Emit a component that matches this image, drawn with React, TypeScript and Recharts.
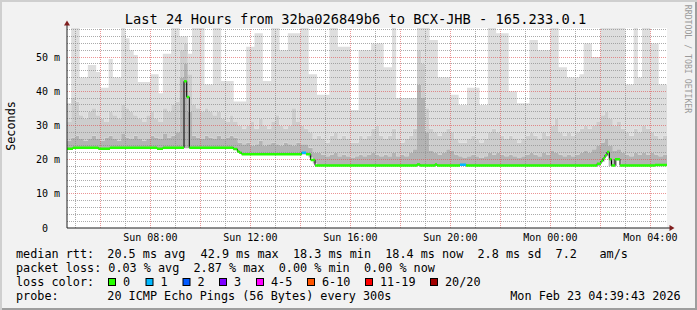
import React from 'react'
import { ComposedChart, Area, Line, XAxis, YAxis, CartesianGrid, ReferenceLine } from 'recharts'

const MONO = "'DejaVu Sans Mono', monospace"

// time in hours since Sun 00:00, smoke in 10 minute bins
const T0 = 4 + 40 / 60
const T1 = T0 + 24
const BIN = 1 / 6
const Y_TOP = 58.5

// smoke bands (ms): lowest ping, top of dark band, top of mid band, highest ping
const SMOKE_LOW = [
  23.3, 23.3, 23.3, 23.3, 23.3, 23.3, 23.3, 23.3, 23.3, 23.3, 23.3, 23.3,
  23.3, 23.3, 23.3, 23.3, 23.3, 23.3, 23.3, 23.3, 23.3, 23.3, 23.3, 23.3,
  23.3, 23.3, 23.3, 23.3, 23.3, 23.3, 23.3, 23.3, 23.3, 23.3, 23.3, 23.3,
  23.3, 23.3, 23.3, 23.2, 22.9, 22.1, 21.5, 21.5, 21.5, 21.5, 21.5, 21.5,
  21.5, 21.5, 21.5, 21.5, 21.5, 21.5, 21.5, 21.5, 21.5, 21.5, 20.6, 18.9,
  18.1, 18.1, 18.1, 18.1, 18.1, 18.1, 18.1, 18.1, 18.1, 18.1, 18.1, 18.1,
  18.1, 18.1, 18.1, 18.1, 18.1, 18.1, 18.1, 18.1, 18.1, 18.1, 18.1, 18.1,
  18.1, 18.1, 18.1, 18.1, 18.1, 18.1, 18.1, 18.1, 18.1, 18.1, 18.1, 18.1,
  18.1, 18.1, 18.1, 18.1, 18.1, 18.1, 18.1, 18.1, 18.1, 18.1, 18.1, 18.1,
  18.1, 18.1, 18.1, 18.1, 18.1, 18.1, 18.1, 18.1, 18.1, 18.1, 18.1, 18.1,
  18.1, 18.1, 18.1, 18.1, 18.1, 18.1, 18.1, 18.1, 19.4, 21.0, 18.1, 18.1,
  19.8, 18.1, 18.1, 18.1, 18.1, 18.1, 18.1, 18.1, 18.1, 18.1, 18.1, 18.1,
]
const SMOKE_DARK = [
  25.5, 26.5, 27, 26, 25.5, 26, 27, 26, 25.5, 26.5, 27, 26,
  25.5, 27.5, 26.5, 26, 27, 26, 25.5, 26, 27, 26.5, 26, 27.5,
  26.5, 27, 28, 44, 48, 34, 27, 26.5, 26, 27, 26.5, 26,
  27, 26, 26.5, 27, 26.5, 25, 24.5, 25, 24, 24.5, 25.5, 24,
  24.5, 25, 24.5, 24, 25, 24.5, 24, 25, 24.5, 24.5, 23.5, 22,
  22, 21.5, 21, 21.5, 22, 21, 21.5, 21, 20.5, 21, 21.5, 21,
  21.5, 22, 21.5, 21, 21.5, 21, 22, 21, 21.5, 21, 22, 23,
  42, 38, 28, 22.5, 22, 21.5, 22, 23, 22.5, 21.5, 21, 20.5,
  21, 21.5, 21, 20.5, 21, 22, 21.5, 22, 21.5, 21, 21.5, 21,
  20.5, 21, 21.5, 22, 21.5, 21, 22, 21.5, 22.5, 22, 21.5, 21,
  21.5, 21, 21.5, 22, 22.5, 22, 23, 24, 25, 26, 24, 22.5,
  23, 22, 21.5, 21, 22, 21.5, 22, 21.5, 22, 21.5, 21, 21.5,
]
const SMOKE_MID = [
  31, 38, 37, 33, 32, 34, 35, 33, 32, 31, 34, 33,
  32, 36, 35, 34, 33, 32, 31, 33, 34, 32, 31, 35,
  34, 36, 37, 52, 54, 45, 36, 35, 34, 35, 34, 33,
  34, 32, 31, 33, 31, 30, 29, 30, 31, 29, 32, 30,
  29, 31, 33, 30, 29, 30, 35, 31, 30, 29, 28, 26,
  27, 26, 25, 27, 28, 26, 27, 26, 25, 25, 27, 26,
  27, 29, 30, 27, 26, 27, 29, 26, 25, 26, 27, 29,
  52, 48, 35, 29, 28, 27, 28, 29, 28, 26, 25, 25,
  26, 27, 26, 25, 26, 28, 29, 28, 27, 26, 27, 26,
  25, 26, 27, 28, 27, 26, 28, 27, 30, 32, 28, 27,
  28, 27, 28, 29, 30, 29, 30, 31, 33, 34, 32, 30,
  31, 29, 28, 27, 29, 28, 30, 29, 28, 27, 26, 27,
]
const SMOKE_MAX = [
  36.5, 60, 60, 44, 44, 47.7, 47.7, 45.6, 41, 41, 49.4, 44,
  44, 60, 55.5, 52, 50.6, 42.7, 42.7, 42.7, 45, 45, 39.4, 51,
  51, 60, 60, 56, 56, 51, 60, 60, 60, 42, 42, 60,
  60, 43, 43, 43, 37, 37, 37, 53, 53, 57, 57, 43,
  43, 60, 60, 52, 52, 57, 57, 57, 60, 60, 45, 45,
  39, 39, 39, 60, 60, 53, 53, 53, 34.5, 34.5, 52, 52,
  52, 54, 54, 54, 47, 47, 60, 38, 38, 38, 38, 38,
  60, 60, 60, 55, 55, 44, 44, 44, 39, 39, 36, 36,
  41, 41, 41, 36, 36, 60, 60, 57, 57, 57, 40, 40,
  36.5, 36.5, 36.5, 55, 55, 52, 52, 52, 60, 60, 47, 47,
  44, 44, 44, 45, 54, 54, 50, 50, 60, 60, 60, 60,
  60, 60, 42, 42, 60, 44, 60, 60, 54, 54, 42, 42,
]

// median rtt steps: start hour, value (ms), lost pings
const MED_T = [
  4.667, 4.907, 5.92, 6.387, 8.267, 8.507, 9.347, 9.455, 9.559, 11.32, 11.48,
  11.56, 11.655, 14.055, 14.227, 14.415, 14.587, 18.667, 18.787, 19.387, 19.467,
  20.387, 20.627, 25.867, 26.027, 26.107, 26.187, 26.267, 26.36, 26.447, 26.587,
  26.787, 28.187,
]
const MED_V = [
  23.2, 23.5, 23.2, 23.5, 23.2, 23.5, 42.9, 38.3, 23.5, 23.1, 22.4,
  22.0, 21.6, 22.0, 21.6, 19.9, 18.3, 18.6, 18.3, 18.6, 18.3,
  18.5, 18.3, 18.8, 19.6, 20.4, 21.3, 22.2, 20.1, 18.3, 20.1,
  18.3, 18.4,
]
const MED_LOSS = [
  0, 0, 0, 0, 0, 0, 0, 0, 0, 0, 0,
  0, 0, 1, 0, 0, 0, 0, 0, 0, 0,
  1, 0, 0, 0, 0, 0, 0, 0, 0, 0,
  0, 0,
]

const X_TICKS = [8, 12, 16, 20, 24, 28]
const X_LABELS = ['Sun 08:00', 'Sun 12:00', 'Sun 16:00', 'Sun 20:00', 'Mon 00:00', 'Mon 04:00']
const X_MAJOR = [6, 8, 10, 12, 14, 16, 18, 20, 22, 24, 26, 28]
const X_MINOR = [5, 7, 9, 11, 13, 15, 17, 19, 21, 23, 25, 27]
const Y_TICKS = [0, 10, 20, 30, 40, 50]
const Y_MAJOR = [10, 20, 30, 40, 50]
const Y_MINOR = [2, 4, 6, 8, 12, 14, 16, 18, 22, 24, 26, 28, 32, 34, 36, 38, 42, 44, 46, 48, 52, 54, 56, 58]

const RTT_ROW = [
  ['median rtt:', 16], ['20.5 ms avg', 107.3], ['42.9 ms max', 200.6], ['18.3 ms min', 292.9],
  ['18.4 ms now', 385.2], ['2.8 ms sd', 477.5], ['7.2', 555.6], ['am/s', 599.5],
] as const
const LOSS_ROW = [
  ['packet loss:', 16], ['0.03 % avg', 108.3], ['2.87 % max', 193.5], ['0.00 % min', 278.7], ['0.00 % now', 363.9],
] as const
const LOSS_LABELS = ['0', '1', '2', '3', '4-5', '6-10', '11-19', '20/20']
const LOSS_COLORS = ['#26ff00', '#00b8ff', '#0059ff', '#7e00ff', '#ff00ff', '#ff5500', '#ff0000', '#a10000']
const LOSS_BOX_X = [108, 145.5, 182.5, 219, 256, 307, 365, 430]

const smoke = SMOKE_LOW.map((lo, i) => ({
  t: T0 + i * BIN,
  base: lo,
  dk: SMOKE_DARK[i] - lo,
  md: SMOKE_MID[i] - SMOKE_DARK[i],
  lt: SMOKE_MAX[i] - SMOKE_MID[i],
}))
smoke.push({ ...smoke[smoke.length - 1], t: T1 })

const medEnd = [...MED_T.slice(1), T1]
const medianPts = MED_T.map((t, i) => ({ t, v: MED_V[i] as number | null }))
medianPts.push({ t: T1, v: MED_V[MED_V.length - 1] })

// flat pieces of the median, coloured by loss
const pieces = (loss: number) =>
  MED_T.flatMap((t, i) =>
    MED_LOSS[i] === loss
      ? [{ t, v: MED_V[i] as number | null }, { t: medEnd[i], v: MED_V[i] }, { t: medEnd[i], v: null }]
      : []
  )

const gridMinor = { stroke: '#8f8f8f', strokeOpacity: 0.75, strokeDasharray: '1 1', shapeRendering: 'crispEdges' }
const gridMajor = { stroke: 'rgb(222,79,79)', strokeOpacity: 0.6, strokeDasharray: '1 1', shapeRendering: 'crispEdges' }

export default function App() {
  const tickStyle = { fontFamily: MONO, fontSize: 10, fill: '#000' }
  return (
    <div
      style={{
        position: 'absolute', left: 0, top: 0, width: 697, height: 310,
        background: '#f2f2f2',
        boxShadow: 'inset 2px 2px 0 #cfcfcf, inset -2px -2px 0 #9e9e9e',
      }}
    >
      <div style={{ position: 'absolute', left: 0, top: 0 }}>
        <ComposedChart width={697} height={310} data={smoke} margin={{ top: 28, right: 30, bottom: 0, left: 0 }}>
          <CartesianGrid fill="#ffffff" stroke="none" horizontal={false} vertical={false} />
          <XAxis
            type="number" dataKey="t" domain={[T0, T1]} allowDataOverflow ticks={X_TICKS} interval={0}
            tickFormatter={(v: number) => X_LABELS[X_TICKS.indexOf(v)]}
            height={82} tickLine={false} tickSize={0} tickMargin={6}
            axisLine={{ stroke: '#1f1f1f' }} tick={tickStyle}
          />
          <YAxis
            type="number" domain={[0, Y_TOP]} allowDataOverflow ticks={Y_TICKS} interval={0}
            tickFormatter={(v: number) => (v === 0 ? '0\u00a0\u00a0' : `${v} m`)}
            width={67} tickLine={false} tickSize={0} tickMargin={7}
            axisLine={{ stroke: '#1f1f1f' }} tick={tickStyle}
          />
          <Area type="stepAfter" dataKey="base" stackId="s" stroke="none" fill="none" isAnimationActive={false} />
          <Area type="stepAfter" dataKey="dk" stackId="s" stroke="none" fill="#b3b3b3" fillOpacity={1} isAnimationActive={false} />
          <Area type="stepAfter" dataKey="md" stackId="s" stroke="none" fill="#cdcdcd" fillOpacity={1} isAnimationActive={false} />
          <Area type="stepAfter" dataKey="lt" stackId="s" stroke="none" fill="#dedede" fillOpacity={1} isAnimationActive={false} />
          {Y_MINOR.map((v) => <ReferenceLine key={'ym' + v} y={v} {...gridMinor} />)}
          {X_MINOR.map((v) => <ReferenceLine key={'xm' + v} x={v} {...gridMinor} />)}
          {Y_MAJOR.map((v) => <ReferenceLine key={'yM' + v} y={v} {...gridMajor} />)}
          {X_MAJOR.map((v) => <ReferenceLine key={'xM' + v} x={v} {...gridMajor} />)}
          <Line data={medianPts} dataKey="v" type="stepAfter" stroke="#000000" strokeWidth={1} dot={false} activeDot={false} isAnimationActive={false} />
          <Line data={pieces(0)} dataKey="v" type="linear" stroke={LOSS_COLORS[0]} strokeWidth={2.5} dot={false} activeDot={false} connectNulls={false} isAnimationActive={false} />
          <Line data={pieces(1)} dataKey="v" type="linear" stroke={LOSS_COLORS[1]} strokeWidth={2.5} dot={false} activeDot={false} connectNulls={false} isAnimationActive={false} />
        </ComposedChart>
      </div>
      <svg width={697} height={310} style={{ position: 'absolute', left: 0, top: 0, pointerEvents: 'none' }} fontFamily={MONO}>
        <text x={355.5} y={24} textAnchor="middle" fontSize={13.7} fill="#000">
          Last 24 Hours from 32ba026849b6 to BCX-JHB - 165.233.0.1
        </text>
        <text transform="translate(15,126) rotate(-90)" textAnchor="middle" fontSize={11.8} fill="#000">Seconds</text>
        <text transform="translate(685,59) rotate(90)" textAnchor="middle" fontSize={8.2} fill="#9a9a9a">
          RRDTOOL / TOBI OETIKER
        </text>
        <line x1={67} y1={25} x2={67} y2={28} stroke="#1f1f1f" />
        <polygon points="64,25.5 70,25.5 67,20.5" fill="#801f1f" />
        <line x1={667} y1={228} x2={670} y2={228} stroke="#1f1f1f" />
        <polygon points="669.5,225 669.5,231 674.5,228" fill="#801f1f" />
        <g fontSize={11.8} fill="#000" style={{ whiteSpace: 'pre' }}>
          {RTT_ROW.map(([s, x]) => <text key={s} x={x} y={258.3}>{s}</text>)}
          {LOSS_ROW.map(([s, x]) => <text key={s} x={x} y={272.3}>{s}</text>)}
          <text x={16} y={286.3}>loss color:</text>
          {LOSS_LABELS.map((s, i) => (
            <g key={s}>
              <rect x={LOSS_BOX_X[i] + 0.5} y={278.5} width={7} height={7} fill={LOSS_COLORS[i]} stroke="#000" />
              <text x={LOSS_BOX_X[i] + 15} y={286.3}>{s}</text>
            </g>
          ))}
          <text x={16} y={300.3}>probe:</text>
          <text x={107.3} y={300.3}>20 ICMP Echo Pings (56 Bytes) every 300s</text>
          <text x={680.7} y={300.3} textAnchor="end">Mon Feb 23 04:39:43 2026</text>
        </g>
      </svg>
    </div>
  )
}
